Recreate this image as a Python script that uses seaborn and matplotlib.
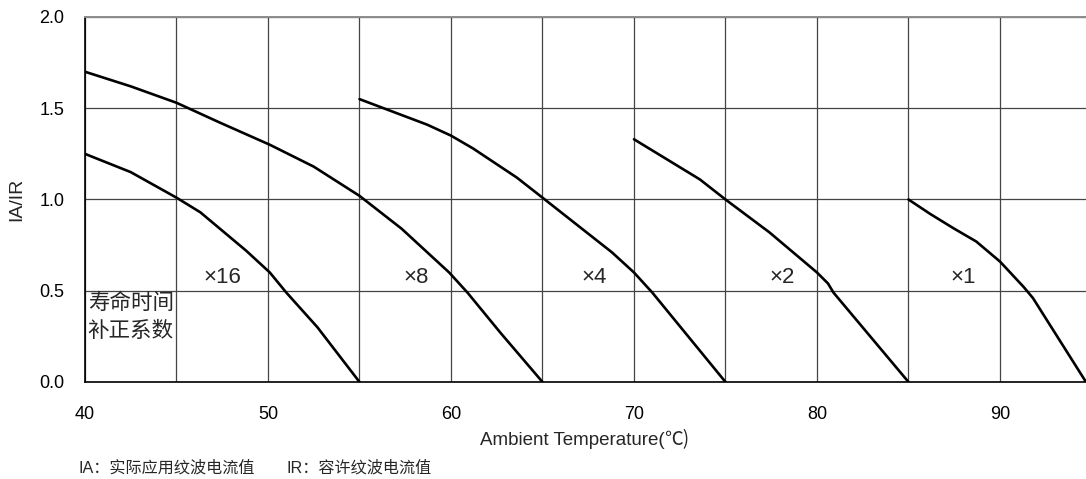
import pandas as pd
import matplotlib
matplotlib.use('Agg')
import matplotlib.pyplot as plt
import seaborn as sns

# 数据：每条寿命曲线的 (温度, IA/IR) 读数
curve_16_low_t = [40, 42.5, 45.0, 46.3, 48.8, 50.1, 51.0, 52.7, 55.0]
curve_16_low_r = [1.25, 1.15, 1.01, 0.93, 0.72, 0.60, 0.49, 0.30, 0.0]

curve_8_high_t = [40, 42.5, 45.0, 47.4, 50.1, 52.5, 55.0, 57.3, 59.9, 60.9, 62.7, 65.0]
curve_8_high_r = [1.70, 1.62, 1.53, 1.42, 1.30, 1.18, 1.02, 0.84, 0.60, 0.49, 0.27, 0.0]

curve_4_t = [55.0, 58.7, 60.0, 61.2, 63.6, 65.0, 68.8, 70.0, 71.0, 75.0]
curve_4_r = [1.55, 1.41, 1.35, 1.28, 1.12, 1.01, 0.71, 0.60, 0.49, 0.0]

curve_2_t = [70.0, 73.6, 75.0, 77.4, 80.0, 80.6, 80.9, 85.0]
curve_2_r = [1.33, 1.11, 1.00, 0.82, 0.60, 0.54, 0.49, 0.0]

curve_1_t = [85.0, 86.2, 87.5, 88.7, 90.0, 91.3, 91.8, 94.7]
curve_1_r = [1.00, 0.92, 0.84, 0.77, 0.66, 0.52, 0.46, 0.0]

factor_labels = ['×16', '×8', '×4', '×2', '×1']
factor_x = [47.5, 58.1, 67.8, 78.1, 88.0]
factor_y = 0.575

x_ticks = [40, 50, 60, 70, 80, 90]
y_ticks = [0.0, 0.5, 1.0, 1.5, 2.0]

# 组合成长表
curves = [
    ('a', curve_16_low_t, curve_16_low_r),
    ('b', curve_8_high_t, curve_8_high_r),
    ('c', curve_4_t, curve_4_r),
    ('d', curve_2_t, curve_2_r),
    ('e', curve_1_t, curve_1_r),
]
rows = []
for name, ts, rs in curves:
    for t, r in zip(ts, rs):
        rows.append({'curve': name, 'temp': t, 'ratio': r})
df = pd.DataFrame(rows)

sns.set_theme(style='white')
plt.rcParams['font.family'] = ['Liberation Sans', 'Noto Sans CJK SC', 'DejaVu Sans']
cjk = ['Noto Sans CJK SC', 'DejaVu Sans']

fig = plt.figure(figsize=(10.86, 4.79), dpi=100)
ax = fig.add_axes([85 / 1086, 97 / 479, 1 - 85 / 1086, 365 / 479])

sns.lineplot(data=df, x='temp', y='ratio', units='curve', estimator=None,
             sort=False, color='black', linewidth=1.9, ax=ax)

ax.set_xlim(40, 94.7)
ax.set_ylim(0, 2.0)
ax.set_xticks(x_ticks)
ax.set_xticks(list(range(45, 95, 5)), minor=True)
ax.set_yticks(y_ticks)
ax.set_yticklabels([f'{v:.1f}' for v in y_ticks])
ax.grid(True, which='both', color='#444444', linewidth=0.9)
ax.set_axisbelow(True)
ax.tick_params(axis='both', which='both', length=0, labelsize=13, colors='black')
ax.tick_params(axis='x', pad=17)
ax.tick_params(axis='y', pad=15)

for side in ['left', 'bottom']:
    ax.spines[side].set_color('black')
    ax.spines[side].set_linewidth(1.2)
ax.spines['top'].set_color('#8c8c8c')
ax.spines['top'].set_linewidth(1.4)
ax.spines['right'].set_visible(False)

# x 轴标题：英文部分 + 中文字体的 ℃
ax.set_xlabel('')
ax.text(0.579, -0.159, 'Ambient Temperature(', transform=ax.transAxes,
        fontsize=13.5, ha='right', va='center')
ax.text(0.579, -0.159, '℃)', transform=ax.transAxes,
        fontsize=13.5, ha='left', va='center', family=cjk)

ax.set_ylabel('IA/IR', fontsize=14)
ax.yaxis.set_label_coords(-0.06, 0.5)

for lab, x in zip(factor_labels, factor_x):
    ax.text(x, factor_y, lab, fontsize=16, ha='center', va='center')

ax.text(40.15, 0.495, '寿命时间\n补正系数', fontsize=15.5, ha='left', va='top',
        linespacing=1.35, family=cjk)

fig.text(78 / 1086, 1 - 468 / 479, 'IA：实际应用纹波电流值', fontsize=11.6,
         ha='left', va='center')
fig.text(287 / 1086, 1 - 468 / 479, 'IR：容许纹波电流值', fontsize=11.6,
         ha='left', va='center')

fig.savefig('out.png', dpi=100)
